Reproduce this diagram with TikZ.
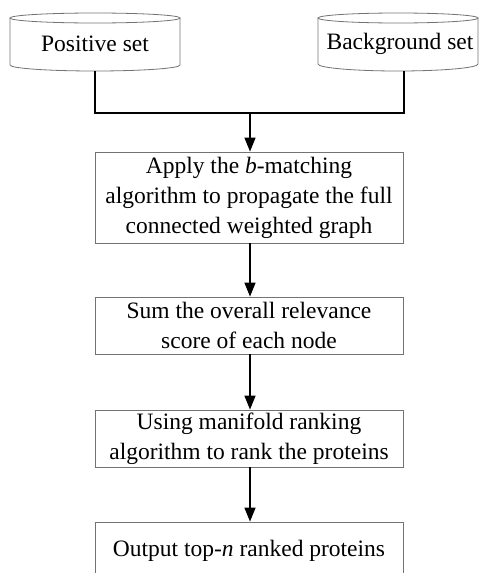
\documentclass[tikz,border=0pt]{standalone}
\usepackage{fontspec}
\setmainfont{Liberation Serif}
\usetikzlibrary{arrows.meta}
\tikzset{
  x=1pt, y=1pt,
  boxstyle/.style={draw=black!55, line width=0.8pt, minimum width=308pt, inner sep=0pt, align=center, font=\fontsize{23.5}{30}\selectfont},
  cylstyle/.style={draw=black!55, line width=0.8pt},
  conn/.style={draw=black, line width=1.4pt},
  arr/.style={conn, -{Triangle[width=11pt,length=14pt]}},
  lbl/.style={inner sep=0pt, font=\fontsize{23.5}{30}\selectfont}
}
\begin{document}
\begin{tikzpicture}
\useasboundingbox (0,0) rectangle (480,-573);
\clip (0,0) rectangle (480,-573);
% cylinders
\node[lbl, minimum width=170pt, minimum height=58pt] (pos) at (95,-42) {};
\node[lbl] at (95,-44) {Positive set};
\draw[cylstyle] (10,-18) -- (10,-65) arc[start angle=180,end angle=360,x radius=85pt,y radius=6pt] -- (180,-18);
\draw[cylstyle] (95,-18) ellipse[x radius=85pt, y radius=5pt];
\node[lbl, minimum width=160pt, minimum height=58pt] (bg) at (398,-42) {};
\node[lbl] at (400,-44) {Background set};
\draw[cylstyle] (318,-18) -- (318,-64) arc[start angle=180,end angle=360,x radius=80pt,y radius=7pt] -- (478,-18);
\draw[cylstyle] (398,-18) ellipse[x radius=80pt, y radius=5pt];
% boxes
\node[boxstyle, minimum height=91pt] (b1) at (249,-197.5) {Apply the \textit{b}-matching\\algorithm to propagate the full\\connected weighted graph};
\node[boxstyle, minimum height=57pt] (b2) at (249,-325.5) {Sum the overall relevance\\score of each node};
\node[boxstyle, minimum height=57pt] (b3) at (249,-438.5) {Using manifold ranking\\algorithm to rank the proteins};
\node[boxstyle, minimum height=57pt] (b4) at (249,-550.5) {Output top-\textit{n} ranked proteins};
% connectors
\coordinate (j) at (250,-113);
\draw[conn] (pos.south) |- (j) -| ([xshift=6pt]bg.south);
\draw[arr] (j) -- (b1.north -| j);
\draw[arr] (b1.south -| j) -- (b2.north -| j);
\draw[arr] (b2.south -| j) -- (b3.north -| j);
\draw[arr] (b3.south -| j) -- (b4.north -| j);
\end{tikzpicture}
\end{document}
